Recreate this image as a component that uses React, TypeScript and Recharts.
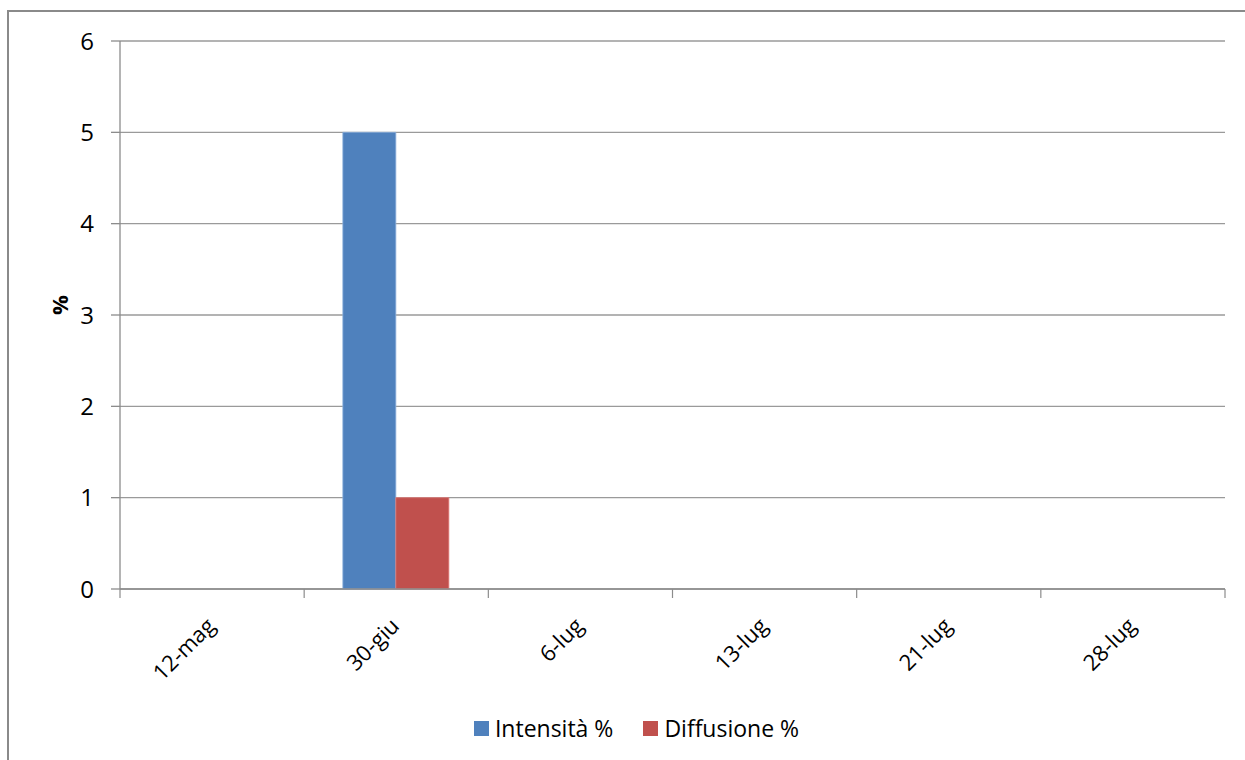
import { BarChart, Bar, XAxis, YAxis, CartesianGrid, Legend } from 'recharts';

const categories = ['12-mag', '30-giu', '6-lug', '13-lug', '21-lug', '28-lug'];
const intensita = [0, 5, 0, 0, 0, 0];
const diffusione = [0, 1, 0, 0, 0, 0];
const yTicks = [0, 1, 2, 3, 4, 5, 6];

const data = categories.map((c, i) => ({ date: c, intensita: intensita[i], diffusione: diffusione[i] }));

const W = 1245;
const H = 760;
const M = { top: 41, right: 20, left: 0, bottom: 0 };
const Y_W = 120;
const FONT = '"Open Sans", sans-serif';
const AXIS = '#8c8c8c';

// excel style: ticks sit between categories, not under them
const STEP = (W - M.left - M.right - Y_W) / categories.length;

const XTick = (props: any) => {
  const { x, y, payload, index } = props;
  const top = y - 8;
  const tx = x - 2;
  const ty = top + 32;
  return (
    <g>
      <line x1={x - STEP / 2} x2={x - STEP / 2} y1={top} y2={top + 9} stroke={AXIS} strokeWidth={1.2} />
      {index === categories.length - 1 && (
        <line x1={x + STEP / 2} x2={x + STEP / 2} y1={top} y2={top + 9} stroke={AXIS} strokeWidth={1.2} />
      )}
      <text
        x={tx}
        y={ty}
        transform={`rotate(-45, ${tx}, ${ty})`}
        textAnchor="end"
        dominantBaseline="central"
        fill="#000"
        fontSize={22}
        fontFamily={FONT}
      >
        {payload.value}
      </text>
    </g>
  );
};

const LegendBox = () => (
  <div style={{ display: 'flex', justifyContent: 'center', gap: 30, fontFamily: FONT, fontSize: 23, color: '#000', paddingLeft: 48, marginTop: -3 }}>
    {[
      { label: 'Intensità %', color: '#4F81BD' },
      { label: 'Diffusione %', color: '#C0504D' },
    ].map(l => (
      <span key={l.label} style={{ display: 'flex', alignItems: 'center' }}>
        <span style={{ width: 15, height: 15, background: l.color, marginRight: 6, display: 'inline-block' }} />
        {l.label}
      </span>
    ))}
  </div>
);

export default function App() {
  return (
    <div style={{ position: 'absolute', left: 0, top: 0, width: W, height: H, overflow: 'hidden', background: '#fff' }}>
      <div style={{ position: 'absolute', left: 7, top: 10, width: 1400, height: 900, border: '2px solid #8a8a8a' }} />
      <div style={{ position: 'absolute', left: 0, top: 0 }}>
        <BarChart width={W} height={H} data={data} margin={M} barCategoryGap="21%" barGap={0}>
          <CartesianGrid vertical={false} stroke="#9a9a9a" strokeWidth={1.3} />
          <XAxis
            dataKey="date"
            tick={<XTick />}
            tickLine={false}
            axisLine={{ stroke: AXIS, strokeWidth: 1.3 }}
            interval={0}
            height={126}
          />
          <YAxis
            domain={[0, 6]}
            ticks={yTicks}
            width={Y_W}
            tickSize={9}
            tickMargin={17}
            tickLine={{ stroke: AXIS, strokeWidth: 1.3 }}
            axisLine={{ stroke: AXIS, strokeWidth: 1.3 }}
            tick={{ fill: '#000', fontSize: 24, fontFamily: FONT }}
            label={{ value: '%', angle: -90, position: 'insideLeft', offset: 60, style: { fontFamily: FONT, fontSize: 22, fontWeight: 'bold', fill: '#000' } }}
          />
          <Legend verticalAlign="bottom" height={45} content={<LegendBox />} />
          <Bar dataKey="intensita" name="Intensità %" fill="#4F81BD" stroke="#8db0dc" strokeWidth={0.8} isAnimationActive={false} />
          <Bar dataKey="diffusione" name="Diffusione %" fill="#C0504D" stroke="#e07a76" strokeWidth={0.8} isAnimationActive={false} />
        </BarChart>
      </div>
    </div>
  );
}
